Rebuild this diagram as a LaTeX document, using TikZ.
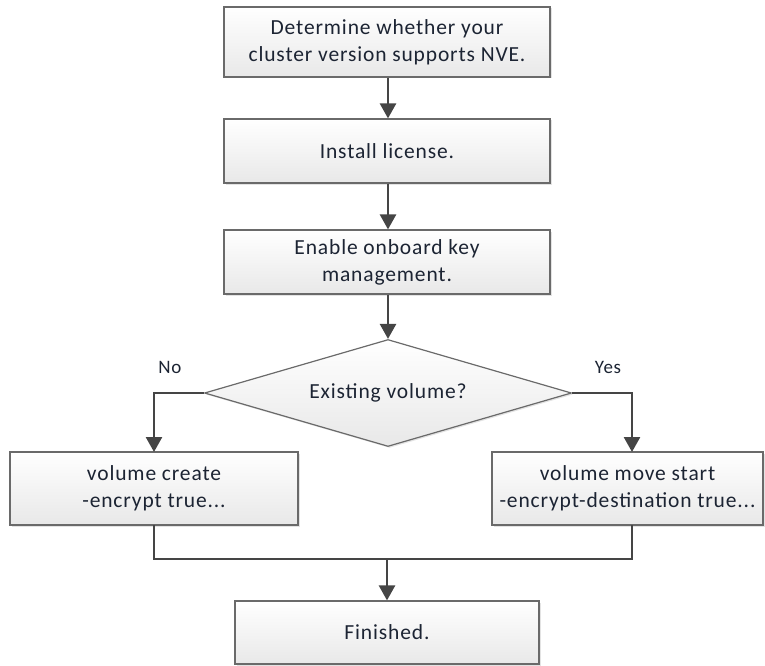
\documentclass[tikz,border=0pt]{standalone}
\usepackage{fontspec}
\setmainfont{Carlito}[LetterSpace=4]
\usetikzlibrary{arrows.meta,shapes.geometric,shadows}
\definecolor{txt}{HTML}{1C2433}
\definecolor{edge}{HTML}{6A6A6A}
\definecolor{conn}{HTML}{454545}
\begin{document}
\begin{tikzpicture}[x=1pt,y=1pt,
  font=\fontsize{21.5}{27}\selectfont, text=txt,
  stepbox/.style={draw=edge, line width=1.2pt, top color=white, bottom color=black!9,
    drop shadow={shadow xshift=1.5pt, shadow yshift=-1.5pt, fill=black!22},
    align=center, inner sep=0pt},
  decbox/.style={diamond, draw=edge, line width=1.2pt, top color=white, bottom color=black!9,
    drop shadow={shadow xshift=1.5pt, shadow yshift=-1.5pt, fill=black!22},
    inner sep=0pt, aspect=3.43},
  conn/.style={draw=conn, line width=2.6pt},
  arr/.style={conn, -{Triangle[width=16pt,length=15pt]}},
  lbl/.style={font=\fontsize{19}{22}\selectfont}]
\useasboundingbox (0,0) rectangle (765,-666);
\node[stepbox, minimum width=326, minimum height=70] (b1) at (387,-42) {Determine whether your\\cluster version supports NVE.};
\node[stepbox, minimum width=326, minimum height=64] (b2) at (387,-151) {Install license.};
\node[stepbox, minimum width=326, minimum height=64] (b3) at (387,-262) {Enable onboard key\\management.};
\node[decbox, minimum width=367, minimum height=107] (d) at (388,-393) {Existing volume?};
\node[stepbox, minimum width=288, minimum height=73] (l) at (154,-488.5) {volume create\\-encrypt true...};
\node[stepbox, minimum width=271, minimum height=73] (r) at (627.5,-488.5) {volume move start\\-encrypt-destination true...};
\node[stepbox, minimum width=304, minimum height=63] (f) at (387,-632.5) {Finished.};
\node[lbl] (no) at (170,-367) {No};
\node[lbl] (yes) at (608,-367) {Yes};
\coordinate (m) at (387,-559);
\coordinate (lt) at (154,-452);
\coordinate (rt) at (632,-452);
\coordinate (lb) at (154,-525);
\coordinate (rb) at (632,-525);
\draw[arr] (b1.south -| 388,0) -- (b2.north -| 388,0);
\draw[arr] (b2.south -| 388,0) -- (b3.north -| 388,0);
\draw[arr] (b3.south -| 388,0) -- (d.north);
\draw[arr] (d.west) -| (lt);
\draw[arr] (d.east) -| (rt);
\draw[conn] (lb) |- (m);
\draw[conn] (rb) |- (m);
\draw[arr] (m) -- (f.north);
\end{tikzpicture}
\end{document}
